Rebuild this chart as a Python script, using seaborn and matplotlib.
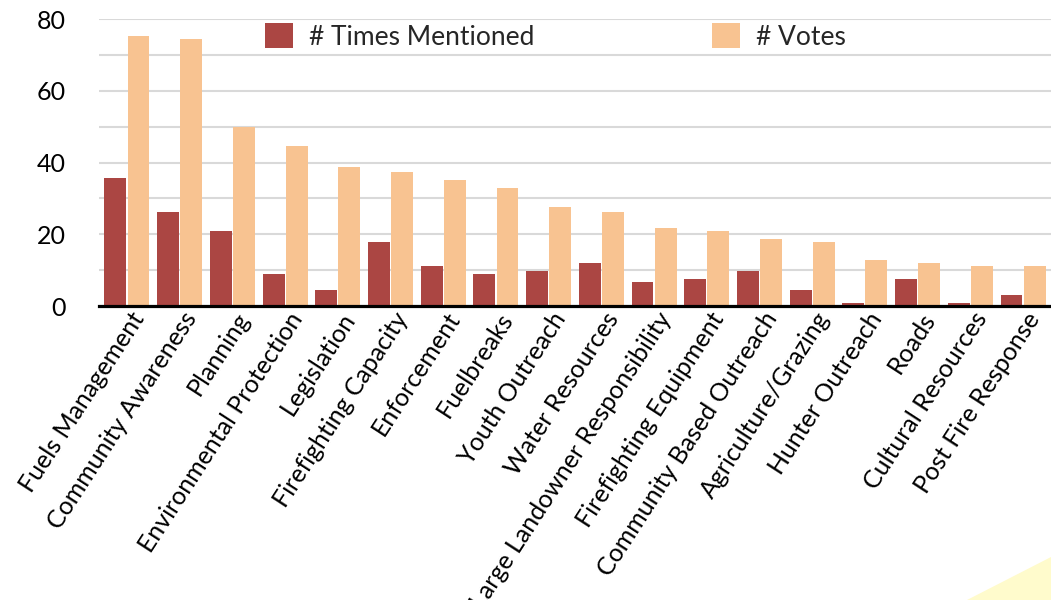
import numpy as np
import pandas as pd
import matplotlib.pyplot as plt
import matplotlib.transforms as mtransforms
from matplotlib.patches import Polygon
import seaborn as sns

categories = ["Fuels Management", "Community Awareness", "Planning",
              "Environmental Protection", "Legislation", "Firefighting Capacity",
              "Enforcement", "Fuelbreaks", "Youth Outreach", "Water Resources",
              "Large Landowner Responsibility", "Firefighting Equipment",
              "Community Based Outreach", "Agriculture/Grazing", "Hunter Outreach",
              "Roads", "Cultural Resources", "Post Fire Response"]
times_mentioned = [35.7, 26.2, 20.9, 8.9, 4.5, 17.9, 11.2, 8.9, 9.8, 12.0,
                   6.7, 7.5, 9.8, 4.5, 0.8, 7.5, 0.8, 3.1]
votes = [75.4, 74.5, 49.9, 44.6, 38.8, 37.4, 35.2, 32.9, 27.6, 26.2,
         21.8, 20.9, 18.7, 17.9, 12.8, 12.0, 11.2, 11.2]
series = ["# Times Mentioned", "# Votes"]

df = pd.DataFrame({
    "Category": categories * 2,
    "Series": [series[0]] * len(categories) + [series[1]] * len(categories),
    "Value": times_mentioned + votes,
})

sns.set_theme(style="white")
plt.rcParams['font.family'] = ['Lato', 'DejaVu Sans']

fig = plt.figure(figsize=(10.51, 6), dpi=100)
ax = fig.add_axes([99 / 1051, 1 - 306 / 600, 1 - 99 / 1051, (306 - 19.3) / 600])

sns.barplot(data=df, x="Category", y="Value", hue="Series",
            palette=["#AB4643", "#F8C391"], saturation=1,
            width=0.875, gap=0.05, linewidth=0, ax=ax, zorder=3)

ax.set_xlim(-0.53, 17.53)
ax.set_ylim(0, 80)
ax.set_yticks(np.arange(0, 81, 20))
ax.set_yticks(np.arange(10, 80, 20), minor=True)
ax.grid(axis="y", which="both", color="#D9D9D9", linewidth=1.5, zorder=0)
ax.set_axisbelow(True)
ax.set_xlabel("")
ax.set_ylabel("")

for s in ["top", "right", "left"]:
    ax.spines[s].set_visible(False)
ax.spines["bottom"].set_color("black")
ax.spines["bottom"].set_linewidth(2.3)
ax.spines["bottom"].set_zorder(5)

ax.tick_params(axis="y", which="both", length=0, pad=24, labelsize=18, labelcolor="black")
ax.tick_params(axis="x", length=0, pad=6, labelsize=18, labelcolor="black")
shift = mtransforms.ScaledTranslation(0.12, 0, fig.dpi_scale_trans)
for lab in ax.get_xticklabels():
    lab.set_rotation(57)
    lab.set_ha("right")
    lab.set_va("center")
    lab.set_rotation_mode("anchor")
    lab.set_transform(lab.get_transform() + shift)

ax.legend(ncol=2, loc="center left", bbox_to_anchor=(265 / 1051, 1 - 36.5 / 600),
          bbox_transform=fig.transFigure, frameon=False, fontsize=19,
          handlelength=1.05, handleheight=1.05, handletextpad=0.6,
          columnspacing=6.75, borderpad=0, borderaxespad=0)

# pale yellow corner decoration
fig.patches.append(Polygon([[967 / 1051, 0], [1, 43 / 600], [1, 0]], closed=True,
                           transform=fig.transFigure, facecolor="#FFFBCC",
                           edgecolor="none", zorder=0))

fig.savefig("out.png", dpi=100)
